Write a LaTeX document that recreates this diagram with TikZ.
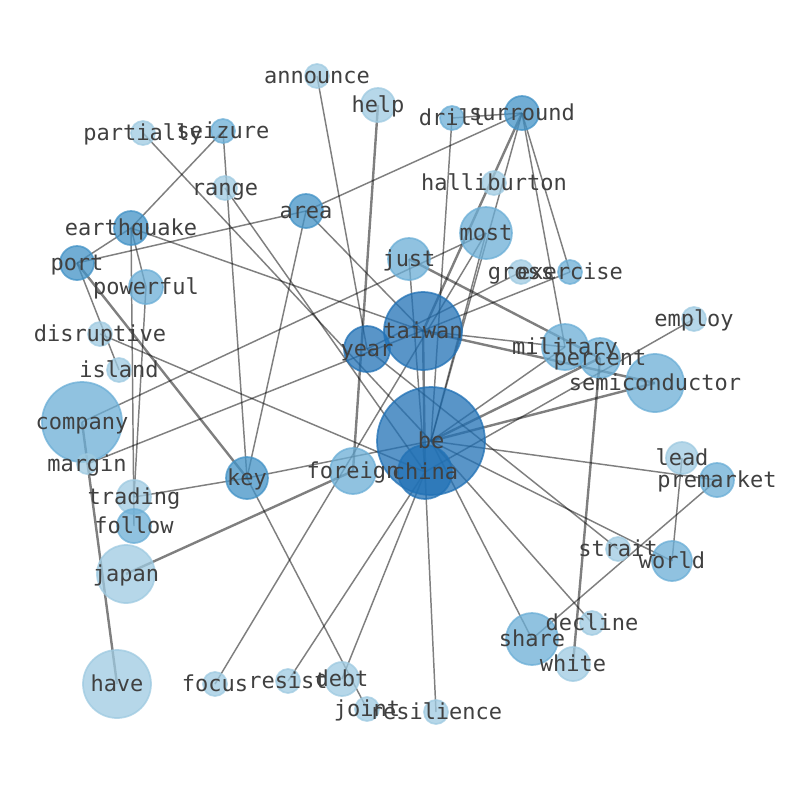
\documentclass[tikz,border=0pt]{standalone}
\usepackage{fontspec}
\newfontfamily\labelfont{DejaVu Sans Mono}
\usetikzlibrary{backgrounds}
\definecolor{bluelight}{RGB}{158,202,225}
\definecolor{bluemid}{RGB}{107,174,214}
\definecolor{bluedeep}{RGB}{66,146,198}
\definecolor{bluedark}{RGB}{33,113,181}
\definecolor{labelgray}{RGB}{64,64,64}

\begin{document}
\begin{tikzpicture}[x=0.75pt,y=0.75pt,yscale=-1,xscale=1,
    wnode/.style={circle,inner sep=0pt,line width=1.3pt,fill opacity=0.75,draw opacity=0.75},
    rad/.style={minimum size=#1*1.5pt},
    lightnode/.style={wnode,fill=bluelight,draw=bluelight},
    midnode/.style={wnode,fill=bluemid,draw=bluemid},
    deepnode/.style={wnode,fill=bluedeep,draw=bluedeep},
    darknode/.style={wnode,fill=bluedark,draw=bluedark},
    wlabel/.style={font=\labelfont\fontsize{16.5}{18}\selectfont,text=labelgray,inner sep=0pt,text height=15.3pt,text depth=4pt},
    link/.style={draw=black,draw opacity=0.5,line width=1.1pt},
    boldlink/.style={link,line width=1.8pt}]
    %set diagram size 794 x 790
    \useasboundingbox (0,0) rectangle (794,790);

    %Shape: Circles
    \node[lightnode,rad=12] (announce) at (317,76) {};
    \node[lightnode,rad=17] (help) at (378,105) {};
    \node[lightnode,rad=12] (partially) at (143,133) {};
    \node[midnode,rad=12] (seizure) at (223,131) {};
    \node[lightnode,rad=12] (range) at (225,188) {};
    \node[deepnode,rad=17] (area) at (306,211) {};
    \node[deepnode,rad=17] (earthquake) at (131,228) {};
    \node[deepnode,rad=17] (port) at (77,263) {};
    \node[midnode,rad=17] (powerful) at (146,287) {};
    \node[lightnode,rad=12] (disruptive) at (100,334) {};
    \node[lightnode,rad=12] (island) at (119,370) {};
    \node[midnode,rad=40] (company) at (82,422) {};
    \node[lightnode,rad=10] (margin) at (87,464) {};
    \node[lightnode,rad=17] (trading) at (134,497) {};
    \node[midnode,rad=17] (follow) at (134,526) {};
    \node[lightnode,rad=29] (japan) at (126,574) {};
    \node[lightnode,rad=34] (have) at (117,684) {};
    \node[deepnode,rad=21] (key) at (247,478) {};
    \node[midnode,rad=23] (foreign) at (353,471) {};
    \node[darknode,rad=23] (year) at (367,349) {};
    \node[darknode,rad=39] (taiwan) at (423,331) {};
    \node[darknode,rad=54] (be) at (431,441) {};
    \node[darknode,rad=27] (china) at (425,472) {};
    \node[midnode,rad=21] (just) at (409,259) {};
    \node[midnode,rad=26] (most) at (486,233) {};
    \node[midnode,rad=12] (drill) at (452,118) {};
    \node[deepnode,rad=17] (surround) at (522,113) {};
    \node[lightnode,rad=12] (halliburton) at (494,183) {};
    \node[lightnode,rad=12] (gross) at (521,272) {};
    \node[midnode,rad=12] (exercise) at (570,272) {};
    \node[lightnode,rad=12] (employ) at (694,319) {};
    \node[midnode,rad=23] (military) at (565,347) {};
    \node[midnode,rad=20] (percent) at (600,358) {};
    \node[midnode,rad=29] (semiconductor) at (655,383) {};
    \node[lightnode,rad=16] (lead) at (682,458) {};
    \node[midnode,rad=17] (premarket) at (717,480) {};
    \node[lightnode,rad=12] (strait) at (618,549) {};
    \node[midnode,rad=20] (world) at (672,561) {};
    \node[lightnode,rad=12] (decline) at (592,623) {};
    \node[midnode,rad=26] (share) at (532,639) {};
    \node[lightnode,rad=17] (white) at (573,664) {};
    \node[lightnode,rad=12] (resilience) at (436,712) {};
    \node[lightnode,rad=12] (joint) at (367,709) {};
    \node[lightnode,rad=17] (debt) at (342,679) {};
    \node[lightnode,rad=12] (resist) at (288,681) {};
    \node[lightnode,rad=12] (focus) at (215,684) {};

    %Straight Lines
    \begin{scope}[on background layer]
    \draw[link] (announce.center) -- (year.center);
    \draw[boldlink] (help.center) -- (foreign.center);
    \draw[link] (partially.center) -- (be.center);
    \draw[link] (seizure.center) -- (earthquake.center);
    \draw[link] (seizure.center) -- (key.center);
    \draw[link] (range.center) -- (china.center);
    \draw[link] (area.center) -- (port.center);
    \draw[link] (area.center) -- (surround.center);
    \draw[link] (area.center) -- (key.center);
    \draw[link] (area.center) -- (taiwan.center);
    \draw[link] (earthquake.center) -- (port.center);
    \draw[link] (earthquake.center) -- (taiwan.center);
    \draw[link] (earthquake.center) -- (follow.center);
    \draw[link] (earthquake.center) -- (powerful.center);
    \draw[link] (powerful.center) -- (trading.center);
    \draw[link] (port.center) -- (island.center);
    \draw[boldlink] (port.center) -- (key.center);
    \draw[link] (disruptive.center) -- (china.center);
    \draw[link] (company.center) -- (most.center);
    \draw[boldlink] (company.center) -- (have.center);
    \draw[link] (margin.center) -- (exercise.center);
    \draw[link] (trading.center) -- (key.center);
    \draw[link] (key.center) -- (be.center);
    \draw[link] (key.center) -- (joint.center);
    \draw[boldlink] (japan.center) -- (foreign.center);
    \draw[link] (focus.center) -- (most.center);
    \draw[link] (resist.center) -- (china.center);
    \draw[link] (debt.center) -- (china.center);
    \draw[link] (resilience.center) -- (china.center);
    \draw[link] (share.center) -- (be.center);
    \draw[link] (share.center) -- (premarket.center);
    \draw[link] (decline.center) -- (be.center);
    \draw[link] (be.center) -- (premarket.center);
    \draw[link] (be.center) -- (world.center);
    \draw[link] (year.center) -- (strait.center);
    \draw[link] (year.center) -- (gross.center);
    \draw[link] (drill.center) -- (surround.center);
    \draw[link] (drill.center) -- (be.center);
    \draw[boldlink] (surround.center) -- (taiwan.center);
    \draw[link] (surround.center) -- (be.center);
    \draw[link] (surround.center) -- (military.center);
    \draw[link] (surround.center) -- (exercise.center);
    \draw[link] (most.center) -- (be.center);
    \draw[link] (just.center) -- (china.center);
    \draw[boldlink] (just.center) -- (percent.center);
    \draw[link] (taiwan.center) -- (military.center);
    \draw[boldlink] (taiwan.center) -- (semiconductor.center);
    \draw[boldlink] (taiwan.center) -- (china.center);
    \draw[link] (be.center) -- (military.center);
    \draw[boldlink] (be.center) -- (percent.center);
    \draw[boldlink] (be.center) -- (semiconductor.center);
    \draw[link] (employ.center) -- (china.center);
    \draw[boldlink] (percent.center) -- (white.center);
    \draw[link] (lead.center) -- (world.center);
    \end{scope}

    % Text Node
    \foreach \n in {announce,help,partially,seizure,range,area,earthquake,port,powerful,disruptive,island,company,margin,trading,follow,japan,have,key,foreign,year,taiwan,be,china,just,most,drill,surround,halliburton,gross,exercise,employ,military,percent,semiconductor,lead,premarket,strait,world,decline,share,white,resilience,joint,debt,resist,focus}
        \node[wlabel] (\n-text) at (\n.center) {\n};
\end{tikzpicture}
\end{document}
